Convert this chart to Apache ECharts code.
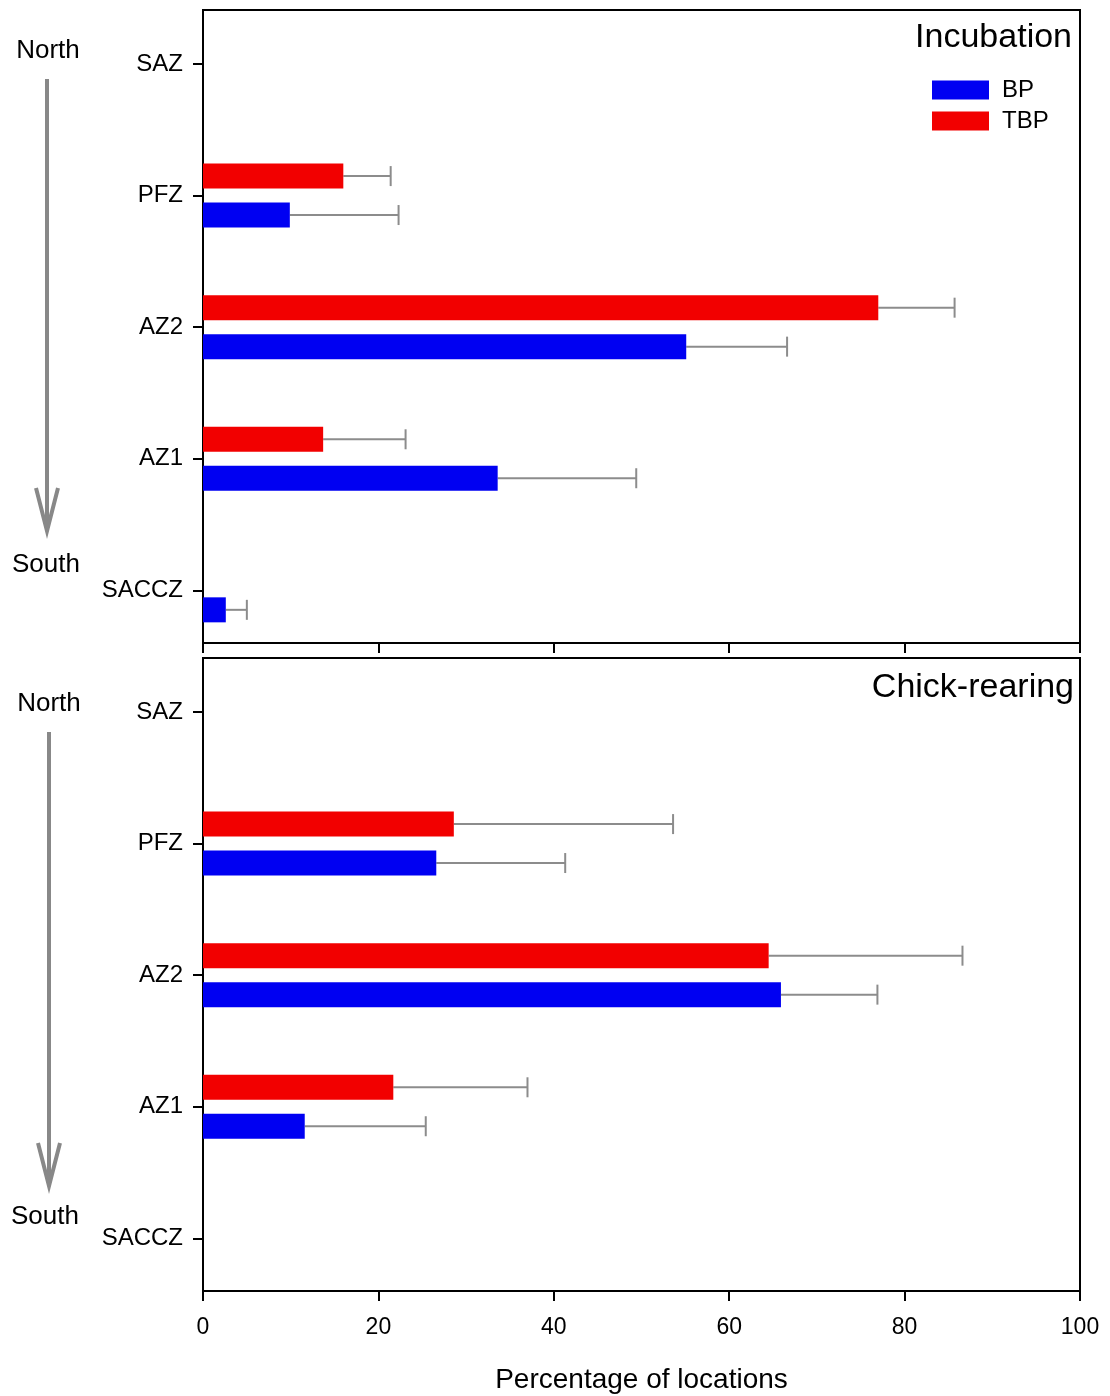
<!DOCTYPE html>
<html>
<head>
<meta charset="utf-8">
<script src="https://cdn.jsdelivr.net/npm/echarts@6/dist/echarts.min.js"></script>
<style>
html,body{margin:0;padding:0;background:#fff;}
#chart{width:1110px;height:1396px;}
</style>
</head>
<body>
<div id="chart"></div>
<script>
// ---- Data (top-to-bottom order of zones) ----
const categories = ['SAZ', 'PFZ', 'AZ2', 'AZ1', 'SACCZ'];
const xTicks = [0, 20, 40, 60, 80, 100];

// Incubation
const incBP      = [null, 9.9, 55.1, 33.6, 2.6];
const incBPErr   = [null, 12.4, 11.5, 15.8, 2.4];
const incTBP     = [null, 16.0, 77.0, 13.7, null];
const incTBPErr  = [null, 5.4, 8.7, 9.4, null];

// Chick-rearing
const chkBP      = [null, 26.6, 65.9, 11.6, null];
const chkBPErr   = [null, 14.7, 11.0, 13.8, null];
const chkTBP     = [null, 28.6, 64.5, 21.7, null];
const chkTBPErr  = [null, 25.0, 22.1, 15.3, null];

const panelTitles = ['Incubation', 'Chick-rearing'];
const seriesNames = ['BP', 'TBP'];

// ---- Styling ----
const FONT = '"Liberation Sans", Arial, sans-serif';
const BLUE = '#0000f2';
const RED = '#f20000';
const ERR = '#8c8c8c';
const BAR_H = 0.19;     // bar thickness in category units
const OFFSET = 0.148;   // offset of each bar from the category tick

function toData(vals, errs) {
  const out = [];
  vals.forEach((v, i) => {
    if (v !== null && v !== undefined) out.push([v, i + 1, errs[i]]);
  });
  return out;
}

function makeRender(off) {
  return function (params, api) {
    const v = api.value(0), p = api.value(1) + off, e = api.value(2);
    const s = api.coord([0, p]);
    const t = api.coord([v, p]);
    const h = api.size([0, BAR_H])[1];
    const eEnd = api.coord([v + e, p]);
    const color = api.visual('color');
    return {
      type: 'group',
      children: [
        {
          type: 'line',
          shape: { x1: t[0], y1: t[1], x2: eEnd[0], y2: eEnd[1] },
          style: { stroke: ERR, lineWidth: 2 }
        },
        {
          type: 'line',
          shape: { x1: eEnd[0], y1: eEnd[1] - 10, x2: eEnd[0], y2: eEnd[1] + 10 },
          style: { stroke: ERR, lineWidth: 2 }
        },
        {
          type: 'rect',
          shape: { x: s[0], y: t[1] - h / 2, width: t[0] - s[0], height: h },
          style: { fill: color }
        }
      ]
    };
  };
}

const gridTops = [10, 658];
const grids = gridTops.map(t => ({
  left: 203, top: t, width: 877, height: 633,
  show: true, borderColor: '#000', borderWidth: 2, backgroundColor: 'transparent'
}));

const xAxes = [0, 1].map(i => ({
  type: 'value', gridIndex: i, min: 0, max: 100, interval: 20,
  axisLine: { show: true, lineStyle: { color: '#000', width: 2 } },
  axisTick: { show: true, inside: false, length: 10, lineStyle: { color: '#000', width: 2 } },
  splitLine: { show: false },
  axisLabel: {
    show: i === 1, color: '#000', fontSize: 23, fontFamily: FONT, margin: 25
  },
  name: i === 1 ? 'Percentage of locations' : '',
  nameLocation: 'middle', nameGap: 75,
  nameTextStyle: { color: '#000', fontSize: 28, fontFamily: FONT }
}));

const yAxes = [0, 1].map(i => ({
  type: 'value', gridIndex: i, min: 0.59, max: 5.4, inverse: true,
  axisLine: { show: true, lineStyle: { color: '#000', width: 2 } },
  axisTick: { show: true, inside: false, length: 10, customValues: [1, 2, 3, 4, 5],
              lineStyle: { color: '#000', width: 2 } },
  splitLine: { show: false },
  axisLabel: {
    customValues: [1, 2, 3, 4, 5],
    formatter: v => categories[Math.round(v) - 1] || '',
    color: '#000', fontSize: 24, fontFamily: FONT, margin: 20
  }
}));

const panelData = [
  [toData(incBP, incBPErr), toData(incTBP, incTBPErr)],
  [toData(chkBP, chkBPErr), toData(chkTBP, chkTBPErr)]
];

const series = [];
[0, 1].forEach(g => {
  series.push({
    type: 'custom', name: seriesNames[0], xAxisIndex: g, yAxisIndex: g,
    itemStyle: { color: BLUE },
    renderItem: makeRender(OFFSET),
    encode: { x: 0, y: 1 },
    data: panelData[g][0]
  });
  series.push({
    type: 'custom', name: seriesNames[1], xAxisIndex: g, yAxisIndex: g,
    itemStyle: { color: RED },
    renderItem: makeRender(-OFFSET),
    encode: { x: 0, y: 1 },
    data: panelData[g][1]
  });
});

function arrow(x, y1, y2) {
  return [
    { type: 'line', shape: { x1: x, y1: y1, x2: x, y2: y2 - 2 },
      style: { stroke: '#888', lineWidth: 4 } },
    { type: 'polyline', shape: { points: [[x - 11, y2 - 43], [x, y2], [x + 11, y2 - 43]] },
      style: { stroke: '#888', lineWidth: 4, fill: null } }
  ];
}

const txt = (x, y, s, size, align) => ({
  type: 'text', x: x, y: y,
  style: { text: s, fill: '#000', font: size + 'px ' + FONT, textAlign: align || 'center', textVerticalAlign: 'middle' }
});

const graphic = [
  txt(48, 51, 'North', 26),
  ...arrow(47, 79, 531),
  txt(46, 565, 'South', 26),
  txt(49, 704, 'North', 26),
  ...arrow(49, 732, 1186),
  txt(45, 1217, 'South', 26),
  txt(1072, 38, panelTitles[0], 34, 'right'),
  txt(1074, 688, panelTitles[1], 34, 'right')
];

const chart = echarts.init(document.getElementById('chart'), null, { renderer: 'canvas' });
chart.setOption({
  backgroundColor: '#fff',
  animation: false,
  textStyle: { fontFamily: FONT },
  grid: grids,
  xAxis: xAxes,
  yAxis: yAxes,
  legend: {
    data: seriesNames, orient: 'vertical', left: 932, top: 78, padding: 0,
    icon: 'rect', itemWidth: 57, itemHeight: 19, itemGap: 7, selectedMode: false,
    textStyle: { color: '#000', fontSize: 24, fontFamily: FONT, padding: [0, 0, 0, 8] }
  },
  graphic: graphic,
  series: series
});
</script>
</body>
</html>
